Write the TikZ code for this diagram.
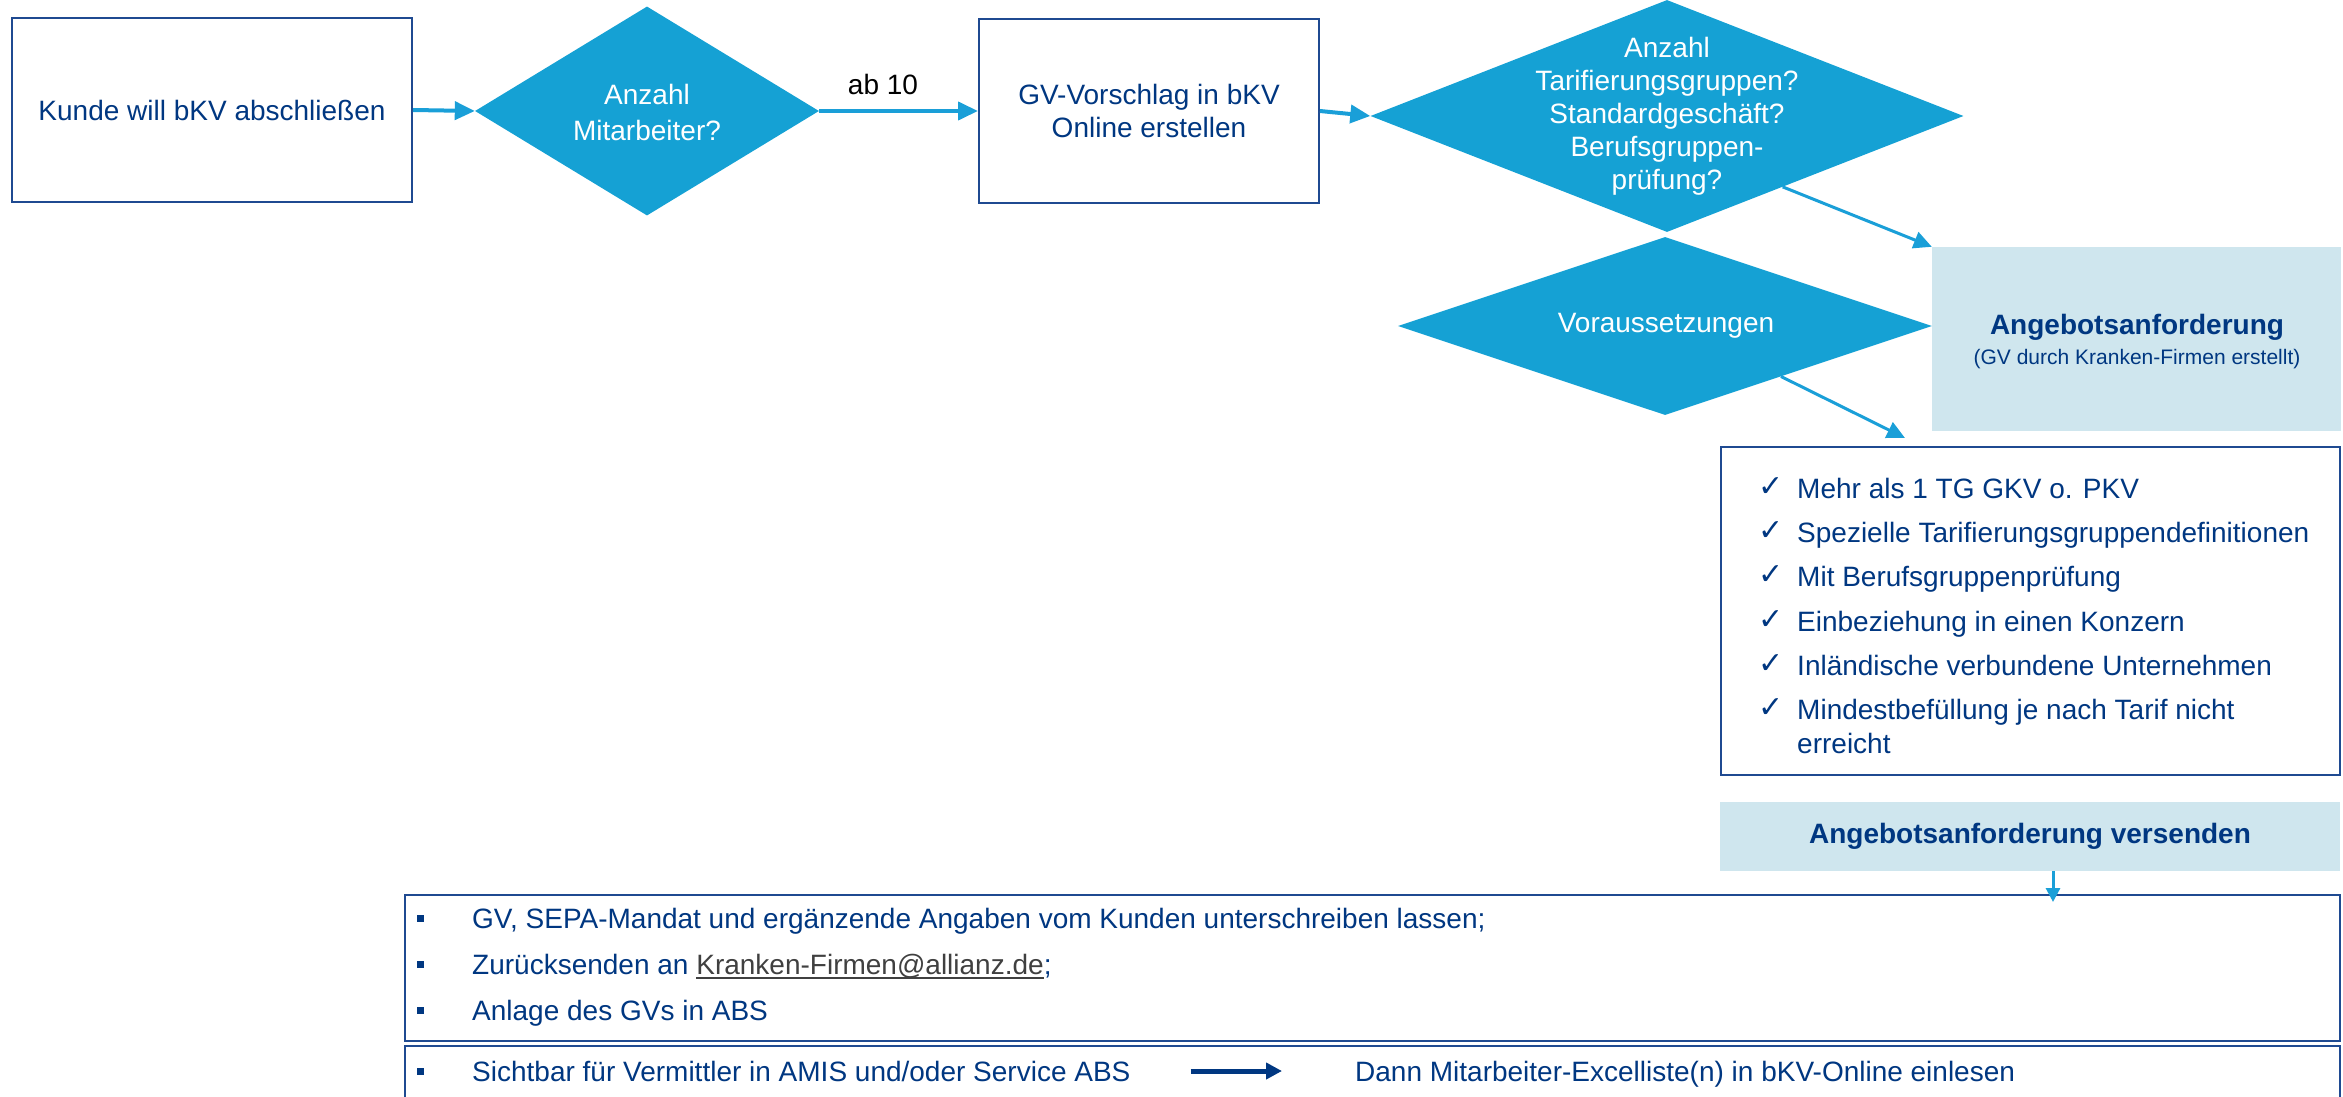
\documentclass[tikz,border=0pt]{standalone}
\usepackage{fontspec}
\setmainfont{Liberation Sans}
\newfontfamily\dejavu{DejaVu Sans}
\usetikzlibrary{shapes.geometric,arrows.meta,calc}
\definecolor{navy}{HTML}{003781}
\definecolor{edgec}{HTML}{1F4A91}
\definecolor{diac}{HTML}{15A1D4}
\definecolor{pale}{HTML}{CFE6EE}
\definecolor{arrowc}{HTML}{1A9FD8}
\definecolor{mailgray}{HTML}{404040}
\newsavebox\myulbox
\newcommand\thickul[1]{\sbox\myulbox{#1}\rlap{\rule[-5pt]{\wd\myulbox}{2pt}}\usebox\myulbox}
\begin{document}
\begin{tikzpicture}[x=1pt,y=-1pt,
  fnt/.style={font=\fontsize{28}{33}\selectfont},
  txt/.style={fnt, text=navy, inner sep=0pt},
  box/.style={draw=edgec, line width=2pt, fill=white, inner sep=0pt},
  diam/.style={shape=diamond, fill=diac, draw=none, inner sep=0pt},
  dtext/.style={fnt, text=white, align=center, inner sep=0pt},
  palebox/.style={fill=pale, draw=none, inner sep=0pt},
  flow/.style={draw=arrowc, line width=4pt, -{Triangle[length=20pt,width=18pt]}},
  flowthin/.style={draw=arrowc, line width=3pt, -{Triangle[length=18pt,width=17pt]}},
  flowsmall/.style={draw=arrowc, line width=3pt, -{Triangle[length=14pt,width=14pt]}},
  navyarrow/.style={draw=navy, line width=5pt, -{Triangle[length=16pt,width=16pt]}},
  chk/.style={font=\dejavu\fontsize{30}{34}\selectfont, text=navy, inner sep=0pt},
  bullet/.style={fill=navy, draw=none, minimum size=7pt, inner sep=0pt}
]
\useasboundingbox (0,0) rectangle (2343,1097);
\clip (0,0) rectangle (2343,1097);

% top row
\node[box, minimum width=400pt, minimum height=184pt, txt, align=center] (kunde) at (212,110) {Kunde will bKV abschließen};
\node[diam, minimum width=344pt, minimum height=209pt] (d1) at (647,111) {};
\node[dtext, font=\fontsize{28}{36}\selectfont] (d1t) at (647,112) {Anzahl\\Mitarbeiter?};
\node[fnt, text=black, inner sep=0pt] (ab) at (883,84) {ab 10};
\node[box, minimum width=340pt, minimum height=184pt, txt, align=center] (gv) at (1149,111) {GV-Vorschlag in bKV\\Online erstellen};
\node[diam, minimum width=593pt, minimum height=232pt] (d2) at (1667,116) {};
\node[dtext] (d2t) at (1667,116) {Anzahl\\Tarifierungsgruppen?\\Standardgeschäft?\\Berufsgruppen-\\prüfung?};

% second level
\node[diam, minimum width=534pt, minimum height=178pt] (d3) at (1665,326) {};
\node[dtext] (d3t) at (1666,326) {Voraussetzungen};
\node[palebox, minimum width=409pt, minimum height=184pt] (ang) at (2136.5,339) {};
\node[txt, font=\bfseries\fontsize{28}{33}\selectfont] (angt) at (2137,327) {Angebotsanforderung};
\node[txt, font=\fontsize{21}{25}\selectfont] (angs) at (2137,359) {(GV durch Kranken-Firmen erstellt)};

% checklist
\node[box, minimum width=619pt, minimum height=328pt] (chkbox) at (2030.5,611) {};
\node[chk] (k1) at (1771,487) {✓};
\node[txt, anchor=base west] (c1) at (1797,498) {Mehr als 1 TG GKV o. PKV};
\node[chk] (k2) at (1771,531) {✓};
\node[txt, anchor=base west] (c2) at (1797,542) {Spezielle Tarifierungsgruppendefinitionen};
\node[chk] (k3) at (1771,575) {✓};
\node[txt, anchor=base west] (c3) at (1797,586) {Mit Berufsgruppenprüfung};
\node[chk] (k4) at (1771,620) {✓};
\node[txt, anchor=base west] (c4) at (1797,631) {Einbeziehung in einen Konzern};
\node[chk] (k5) at (1771,664) {✓};
\node[txt, anchor=base west] (c5) at (1797,675) {Inländische verbundene Unternehmen};
\node[chk] (k6) at (1771,708) {✓};
\node[txt, anchor=base west] (c6) at (1797,719) {Mindestbefüllung je nach Tarif nicht};
\node[txt, anchor=base west] (c6b) at (1797,753) {erreicht};

% send box
\node[palebox, minimum width=620pt, minimum height=69pt, txt, font=\bfseries\fontsize{28}{33}\selectfont] (vers) at (2030,836.5) {Angebotsanforderung versenden};

% bottom boxes
\node[box, minimum width=1935pt, minimum height=146pt] (b1) at (1372.5,968) {};
\node[box, minimum width=1935pt, minimum height=70pt] (b2) at (1372.5,1081) {};

\node[bullet] (p1) at (420,918) {};
\node[txt, anchor=base west] (l1) at (472,928) {GV, SEPA-Mandat und ergänzende Angaben vom Kunden unterschreiben lassen;};
\node[bullet] (p2) at (420,964) {};
\node[txt, anchor=base west] (l2) at (472,974) {Zurücksenden an {\color{mailgray}\thickul{Kranken-Firmen@allianz.de}};};
\node[bullet] (p3) at (420,1010) {};
\node[txt, anchor=base west] (l3) at (472,1020) {Anlage des GVs in ABS};
\node[bullet] (p4) at (420,1071) {};
\node[txt, anchor=base west] (l4) at (472,1081) {Sichtbar für Vermittler in AMIS und/oder Service ABS};
\node[txt, anchor=base west] (dann) at (1355,1081) {Dann Mitarbeiter-Excelliste(n) in bKV-Online einlesen};

% connectors
\draw[flow] (kunde.east) -- (d1.west);
\draw[flow] (d1.east) -- (gv.west);
\draw[flow] (gv.east) -- (d2.west);
\draw[flowthin] ($(d2.east)!0.61!(d2.south)$) -- (ang.north west);
\coordinate (ce) at (1905,438);
\draw[flowthin] ($(d3.east)!0.566!(d3.south)$) -- (ce);
\coordinate (ax) at (2053,0);
\draw[flowsmall] (vers.south -| ax) -- ($(b1.north -| ax)+(0,8)$);
\draw[navyarrow] ($(l4.base east)+(60,-10)$) -- ($(dann.base west)+(-73,-10)$);
\end{tikzpicture}
\end{document}
